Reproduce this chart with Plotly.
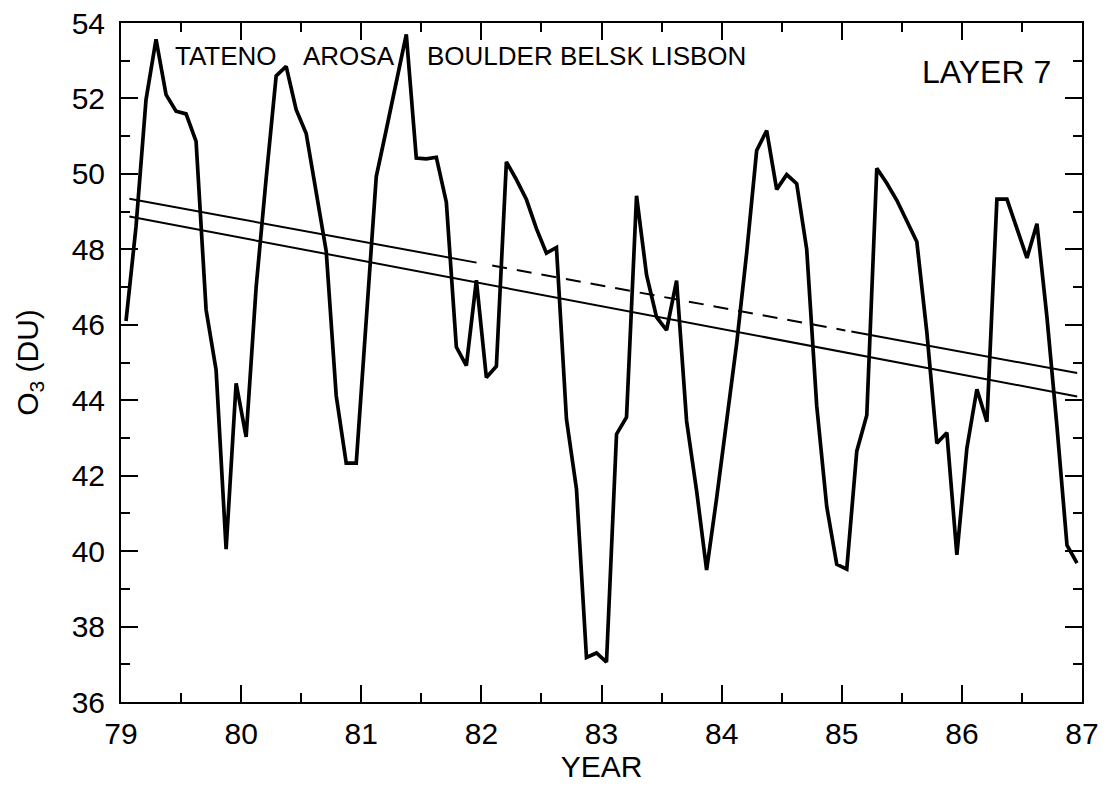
import plotly.graph_objects as go

# ---- data ----
years = [1979, 1980, 1981, 1982, 1983, 1984, 1985, 1986]
months = [1, 2, 3, 4, 5, 6, 7, 8, 9, 10, 11, 12]

o3_1979 = [46.1, 48.6, 51.97, 53.57, 52.1, 51.66, 51.59, 50.86, 46.4, 44.8, 40.05, 44.45]
o3_1980 = [43.03, 47.0, 49.88, 52.6, 52.85, 51.7, 51.07, 49.55, 47.95, 44.12, 42.33, 42.33]
o3_1981 = [46.3, 49.93, 51.17, 52.4, 53.7, 50.42, 50.4, 50.44, 49.25, 45.41, 44.92, 47.18]
o3_1982 = [44.6, 44.9, 50.32, 49.85, 49.32, 48.55, 47.9, 48.05, 43.5, 41.65, 37.18, 37.3]
o3_1983 = [37.06, 43.1, 43.55, 49.42, 47.32, 46.2, 45.86, 47.17, 43.45, 41.6, 39.5, 41.4]
o3_1984 = [43.4, 45.5, 47.9, 50.62, 51.15, 49.59, 49.98, 49.74, 48.0, 43.85, 41.18, 39.65]
o3_1985 = [39.52, 42.65, 43.6, 50.15, 49.75, 49.3, 48.75, 48.2, 45.8, 42.86, 43.14, 39.9]
o3_1986 = [42.73, 44.29, 43.43, 49.33, 49.33, 48.55, 47.77, 48.68, 46.2, 43.3, 40.16, 39.68]
o3_by_year = [o3_1979, o3_1980, o3_1981, o3_1982, o3_1983, o3_1984, o3_1985, o3_1986]

# trend lines: end points (decimal year, DU)
trend_x = [79.07, 86.96]
trend_upper = [49.34, 44.72]
trend_lower = [48.87, 44.10]
# portion of the upper trend drawn dashed
dash_span = [82.09, 85.03]
solid_gap_end = 81.96
solid_resume = 85.08

station_labels = ["TATENO", "AROSA", "BOULDER BELSK LISBON"]
station_x = [79.433, 80.499, 81.53]
layer_label = "LAYER 7"

x_tickvals = [79, 80, 81, 82, 83, 84, 85, 86, 87]
y_tickvals = [36, 38, 40, 42, 44, 46, 48, 50, 52, 54]

# ---- build series ----
x_series, y_series = [], []
for yr, vals in zip(years, o3_by_year):
    for mo, v in zip(months, vals):
        x_series.append(yr - 1900 + (mo - 0.5) / 12.0)
        y_series.append(v)


def on_line(xs, ys, x):
    return ys[0] + (ys[1] - ys[0]) * (x - xs[0]) / (xs[1] - xs[0])


FONT = "Liberation Sans, Arial, Helvetica, sans-serif"
fig = go.Figure()

fig.add_trace(go.Scatter(x=x_series, y=y_series, mode="lines",
                         line=dict(color="black", width=3.7), showlegend=False))

# lower trend (solid)
fig.add_trace(go.Scatter(x=trend_x, y=trend_lower, mode="lines",
                         line=dict(color="black", width=2), showlegend=False))
# upper trend: solid - dashed - solid
seg1 = [trend_x[0], solid_gap_end]
seg3 = [solid_resume, trend_x[1]]
fig.add_trace(go.Scatter(x=seg1, y=[on_line(trend_x, trend_upper, v) for v in seg1],
                         mode="lines", line=dict(color="black", width=2), showlegend=False))
fig.add_trace(go.Scatter(x=dash_span, y=[on_line(trend_x, trend_upper, v) for v in dash_span],
                         mode="lines", line=dict(color="black", width=2, dash="15px,10px"),
                         showlegend=False))
fig.add_trace(go.Scatter(x=seg3, y=[on_line(trend_x, trend_upper, v) for v in seg3],
                         mode="lines", line=dict(color="black", width=2), showlegend=False))

for lab, xv in zip(station_labels, station_x):
    fig.add_annotation(x=xv, y=53.13, xref="x", yref="y", text=lab, showarrow=False,
                       xanchor="left", yanchor="middle",
                       font=dict(family=FONT, size=26, color="black"))
fig.add_annotation(x=86.76, y=52.7, xref="x", yref="y", text=layer_label, showarrow=False,
                   xanchor="right", yanchor="middle",
                   font=dict(family=FONT, size=32, color="black"))

axis_common = dict(showline=True, linecolor="black", linewidth=2, mirror="ticks",
                   ticks="inside", ticklen=17, tickwidth=2, tickcolor="black",
                   showgrid=False, zeroline=False,
                   tickfont=dict(family=FONT, size=30, color="black"))

fig.update_xaxes(range=[79, 87], tickvals=x_tickvals,
                 ticktext=[str(v) for v in x_tickvals],
                 minor=dict(dtick=0.5, tick0=79, ticks="inside", ticklen=9, tickwidth=2,
                            tickcolor="black", showgrid=False),
                 title=dict(text="YEAR", font=dict(family=FONT, size=30, color="black"),
                            standoff=4),
                 ticklabelstandoff=4,
                 **axis_common)
fig.update_yaxes(range=[36, 54], tickvals=y_tickvals,
                 ticktext=[str(v) for v in y_tickvals],
                 minor=dict(dtick=1, tick0=36, ticks="inside", ticklen=9, tickwidth=2,
                            tickcolor="black", showgrid=False),
                 title=dict(text="O<sub>3</sub> (DU)", font=dict(family=FONT, size=30, color="black"),
                            standoff=24),
                 ticklabelstandoff=8,
                 **axis_common)

fig.update_layout(width=1110, height=805,
                  margin=dict(l=121, r=28, t=23, b=103, autoexpand=False),
                  paper_bgcolor="white", plot_bgcolor="white",
                  font=dict(family=FONT, color="black"))

fig.write_html("out.html", config={"displayModeBar": False, "staticPlot": True},
               post_script="document.body.style.margin='0px';document.body.style.overflow='hidden';")
